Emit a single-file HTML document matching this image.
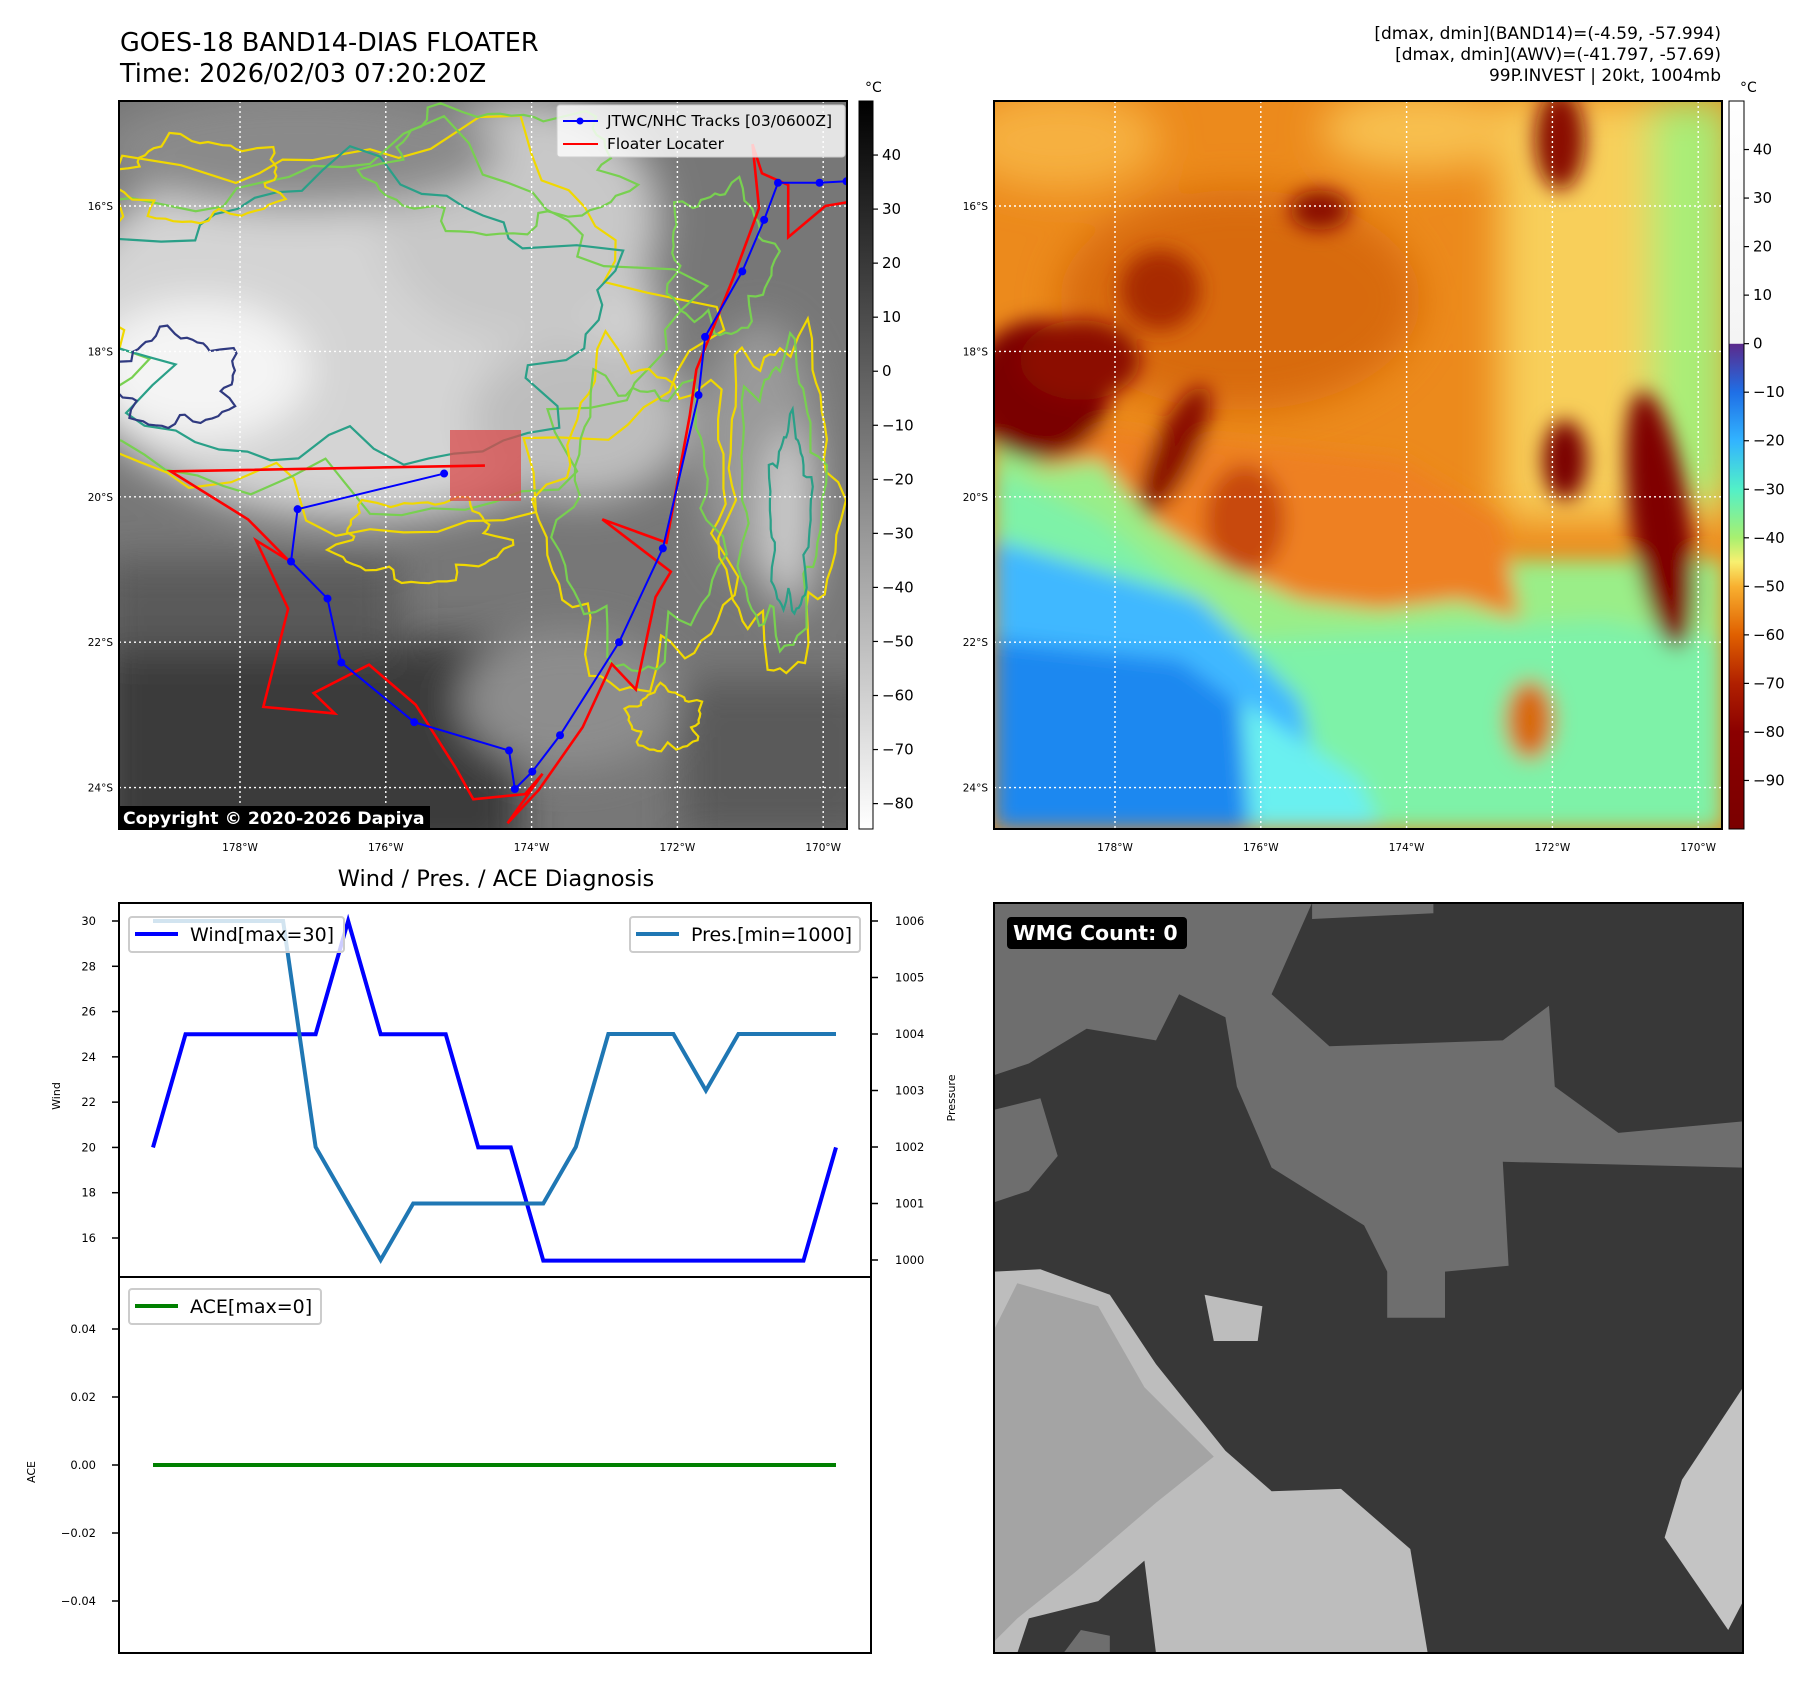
<!DOCTYPE html>
<html><head><meta charset="utf-8">
<style>
html,body{margin:0;padding:0;background:#fff;}
svg{display:block;font-family:"DejaVu Sans","Liberation Sans",sans-serif;}
</style></head>
<body>
<svg id="fig" width="1813" height="1690" viewBox="0 0 1813 1690" xmlns="http://www.w3.org/2000/svg">
<defs>
  <filter id="b20" x="-30%" y="-30%" width="160%" height="160%"><feGaussianBlur stdDeviation="20"/></filter>
  <filter id="b10" x="-30%" y="-30%" width="160%" height="160%"><feGaussianBlur stdDeviation="10"/></filter>
  <clipPath id="clipL"><rect x="119" y="101" width="728" height="728"/></clipPath>
  <clipPath id="clipR"><rect x="994" y="101" width="728" height="728"/></clipPath>
  <clipPath id="clipW"><rect x="994" y="903" width="749" height="750"/></clipPath>
  <linearGradient id="cbGray" x1="0" y1="0" x2="0" y2="1">
    <stop offset="0" stop-color="#000"/><stop offset="1" stop-color="#fff"/>
  </linearGradient>
  <linearGradient id="cbColor" x1="0" y1="0" x2="0" y2="1">
    <stop offset="0" stop-color="#ffffff"/><stop offset="0.333" stop-color="#f4f4f4"/>
    <stop offset="0.334" stop-color="#5b2a8c"/><stop offset="0.4" stop-color="#1f6fe6"/>
    <stop offset="0.467" stop-color="#32b4ff"/><stop offset="0.533" stop-color="#52f0c8"/>
    <stop offset="0.6" stop-color="#a8f070"/><stop offset="0.633" stop-color="#f8f070"/>
    <stop offset="0.667" stop-color="#f8b030"/><stop offset="0.733" stop-color="#e06000"/>
    <stop offset="0.8" stop-color="#b02000"/><stop offset="0.867" stop-color="#8b0000"/>
    <stop offset="1" stop-color="#7a0000"/>
  </linearGradient>
</defs>

<!-- Titles -->
<text x="120" y="51" font-size="25.5" fill="#000">GOES-18 BAND14-DIAS FLOATER</text>
<text x="120" y="82" font-size="25.5" fill="#000">Time: 2026/02/03 07:20:20Z</text>
<text x="1721" y="39" font-size="17" text-anchor="end">[dmax, dmin](BAND14)=(-4.59, -57.994)</text>
<text x="1721" y="60" font-size="17" text-anchor="end">[dmax, dmin](AWV)=(-41.797, -57.69)</text>
<text x="1721" y="81" font-size="17" text-anchor="end">99P.INVEST | 20kt, 1004mb</text>

<!-- LEFT MAP -->
<g id="leftMap" clip-path="url(#clipL)">
  <rect x="119" y="101" width="728" height="728" fill="#777"/>
  <g filter="url(#b20)">
    <ellipse cx="360" cy="330" rx="300" ry="190" fill="#d4d4d4"/>
    <ellipse cx="200" cy="370" rx="110" ry="70" fill="#f4f4f4"/>
    <ellipse cx="520" cy="220" rx="140" ry="120" fill="#c8c8c8"/>
    <ellipse cx="580" cy="420" rx="110" ry="80" fill="#bdbdbd"/>
    <ellipse cx="760" cy="450" rx="60" ry="130" fill="#9a9a9a"/>
    <ellipse cx="790" cy="520" rx="25" ry="90" fill="#cfcfcf"/>
    <rect x="100" y="640" width="420" height="220" fill="#3b3b3b"/>
    <rect x="100" y="560" width="300" height="90" fill="#5a5a5a"/>
    <ellipse cx="570" cy="700" rx="110" ry="70" fill="#8d8d8d"/>
    <rect x="680" y="680" width="200" height="160" fill="#5a5a5a"/>
    <ellipse cx="300" cy="150" rx="200" ry="60" fill="#8a8a8a"/>
  </g>
  <g id="contours" fill="none" stroke-width="2.2"></g>
  <rect x="450" y="430" width="71" height="71" fill="#d94b4b" fill-opacity="0.75"/>
  <g id="gridL" stroke="#fff" stroke-width="1.4" stroke-dasharray="2,3"></g>
  <g id="tracks"></g>
</g>
<rect x="119" y="101" width="728" height="728" fill="none" stroke="#000" stroke-width="2"/>
<g>
  <rect x="119" y="806" width="311" height="24" fill="#000"/>
  <text x="123" y="824" font-size="17.3" font-weight="bold" fill="#fff">Copyright © 2020-2026 Dapiya</text>
</g>
<g>
  <rect x="557" y="105" width="288" height="52" fill="#fff" fill-opacity="0.8" stroke="#ccc" rx="3"/>
  <line x1="563" y1="121" x2="598" y2="121" stroke="#0000ff" stroke-width="2"/>
  <circle cx="580" cy="121" r="3.5" fill="#0000ff"/>
  <text x="607" y="126" font-size="15.5">JTWC/NHC Tracks [03/0600Z]</text>
  <line x1="563" y1="144" x2="598" y2="144" stroke="#ff0000" stroke-width="2"/>
  <text x="607" y="149" font-size="15.5">Floater Locater</text>
</g>
<g id="axLabelsL" font-size="10.5"></g>
<!-- left colorbar -->
<rect x="859" y="101" width="14" height="728" fill="url(#cbGray)" stroke="#000" stroke-width="1"/>
<text x="865" y="92" font-size="14">°C</text>
<g id="cbL" font-size="15"></g>

<!-- RIGHT MAP -->
<g clip-path="url(#clipR)">
  <rect x="994" y="101" width="728" height="728" fill="#ec8a1c"/>
  <g filter="url(#b20)">
    <rect x="1500" y="100" width="230" height="420" fill="#f8cf5a"/>
    <rect x="1650" y="100" width="80" height="400" fill="#a8ee78"/>
    <ellipse cx="1060" cy="140" rx="100" ry="50" fill="#f6b040"/>
    <ellipse cx="1240" cy="300" rx="180" ry="110" fill="#d86a10"/>
    <ellipse cx="1420" cy="130" rx="100" ry="40" fill="#f8c050"/>
  </g>
  <g filter="url(#b10)">
    <path d="M994,440 L1120,450 L1290,480 L1420,520 L1500,560 L1722,560 L1722,829 L994,829 Z" fill="#9aee88"/>
    <path d="M994,470 L1100,520 L1250,640 L1420,630 L1600,620 L1722,640 L1722,829 L994,829 Z" fill="#7ef2a8"/>
    <path d="M994,540 L1200,600 L1300,700 L1330,829 L994,829 Z" fill="#40b8ff"/>
    <path d="M994,640 L1180,660 L1260,720 L1280,829 L994,829 Z" fill="#1e88f0"/>
    <path d="M1240,700 L1360,780 L1380,829 L1250,829 Z" fill="#6af0f0"/>
    <path d="M1030,470 L1100,460 L1150,520 L1210,560 L1300,600 L1380,610 L1460,600 L1520,620 L1500,520 L1400,460 L1300,450 L1200,440 L1100,430 Z" fill="#ee8020"/>
    <ellipse cx="1040" cy="390" rx="70" ry="70" fill="#7a0000"/>
    <ellipse cx="1080" cy="360" rx="60" ry="40" fill="#8c0800"/>
    <ellipse cx="1175" cy="450" rx="22" ry="70" fill="#8a0a00" transform="rotate(25 1175 450)"/>
    <ellipse cx="1320" cy="210" rx="30" ry="20" fill="#8a0a00"/>
    <ellipse cx="1565" cy="460" rx="22" ry="40" fill="#7a0000"/>
    <ellipse cx="1660" cy="520" rx="30" ry="130" fill="#800000" transform="rotate(-8 1660 520)"/>
    <ellipse cx="1560" cy="140" rx="25" ry="50" fill="#8a1000"/>
    <ellipse cx="1530" cy="720" rx="25" ry="40" fill="#d86a10"/>
    <ellipse cx="1245" cy="520" rx="40" ry="55" fill="#c84808"/>
    <ellipse cx="1160" cy="290" rx="40" ry="40" fill="#a82c00"/>
  </g>
  <g id="gridR" stroke="#fff" stroke-width="1.4" stroke-dasharray="2,3"></g>
</g>
<rect x="994" y="101" width="728" height="728" fill="none" stroke="#000" stroke-width="2"/>
<g id="axLabelsR" font-size="10.5"></g>
<rect x="1729" y="101" width="15" height="728" fill="url(#cbColor)" stroke="#000" stroke-width="1"/>
<text x="1740" y="92" font-size="14">°C</text>
<g id="cbR" font-size="15"></g>

<!-- Line chart -->
<text x="496" y="886" font-size="22.5" text-anchor="middle">Wind / Pres. / ACE Diagnosis</text>
<g id="chart"></g>
<rect x="119" y="903" width="752" height="750" fill="none" stroke="#000" stroke-width="2"/>
<line x1="119" y1="1277" x2="871" y2="1277" stroke="#000" stroke-width="2"/>
<g>
  <rect x="129" y="917" width="215" height="35" fill="#fff" fill-opacity="0.8" stroke="#ccc" stroke-width="2" rx="3"/>
  <line x1="135" y1="934" x2="178" y2="934" stroke="#0000ff" stroke-width="4"/>
  <text x="190" y="941" font-size="19">Wind[max=30]</text>
</g>
<g>
  <rect x="630" y="917" width="230" height="35" fill="#fff" fill-opacity="0.8" stroke="#ccc" stroke-width="2" rx="3"/>
  <line x1="636" y1="934" x2="679" y2="934" stroke="#1f77b4" stroke-width="4"/>
  <text x="691" y="941" font-size="19">Pres.[min=1000]</text>
</g>
<g>
  <rect x="129" y="1289" width="192" height="35" fill="#fff" fill-opacity="0.8" stroke="#ccc" stroke-width="2" rx="3"/>
  <line x1="135" y1="1306" x2="178" y2="1306" stroke="#008000" stroke-width="4"/>
  <text x="190" y="1313" font-size="19">ACE[max=0]</text>
</g>
<text transform="translate(60,1096) rotate(-90)" font-size="11" text-anchor="middle">Wind</text>
<text transform="translate(955,1098) rotate(-90)" font-size="11" text-anchor="middle">Pressure</text>
<text transform="translate(35,1472) rotate(-90)" font-size="11" text-anchor="middle">ACE</text>

<!-- WMG panel -->
<g clip-path="url(#clipW)">
  <rect x="994" y="903" width="749" height="750" fill="#383838"/>
  <g id="wmgPolys"></g>
</g>
<rect x="994" y="903" width="749" height="750" fill="none" stroke="#000" stroke-width="2"/>
<g>
  <rect x="1007" y="917" width="180" height="32" rx="4" fill="#000"/>
  <text x="1013" y="940" font-size="20.5" font-weight="bold" fill="#fff">WMG Count: 0</text>
</g>

<script>
// ---------- chart data ----------
const steps = [0,1,2,3,4,5,6,7,8,9,10,11,12,13,14,15,16,17,18,19,20,21];
const windValues = [20,25,25,25,25,25,30,25,25,25,20,20,15,15,15,15,15,15,15,15,15,20];
const presValues = [1006,1006,1006,1006,1006,1002,1001,1000,1001,1001,1001,1001,1001,1002,1004,1004,1004,1003,1004,1004,1004,1004];
const aceValues = [0,0,0,0,0,0,0,0,0,0,0,0,0,0,0,0,0,0,0,0,0,0];
const windTicks = [16,18,20,22,24,26,28,30];
const presTicks = [1000,1001,1002,1003,1004,1005,1006];
const aceTicks = [-0.04,-0.02,0.00,0.02,0.04];
const aceTickLabels = ["\u22120.04","\u22120.02","0.00","0.02","0.04"];
// ---------- map data ----------
const lonTicks = [-178,-176,-174,-172,-170];
const lonTickLabels = ["178°W","176°W","174°W","172°W","170°W"];
const latTicks = [16,18,20,22,24];
const latTickLabels = ["16°S","18°S","20°S","22°S","24°S"];
const trackLon = [-169.68,-170.05,-170.62,-170.81,-171.11,-171.62,-171.71,-172.20,-172.80,-173.61,-173.99,-174.23,-174.31,-175.61,-176.61,-176.80,-177.30,-177.21,-175.20];
const trackLat = [15.66,15.68,15.68,16.19,16.90,17.80,18.60,20.71,22.00,23.28,23.78,24.02,23.49,23.10,22.28,21.40,20.89,20.17,19.68];
const floaterLon = [-169.68,-169.97,-170.48,-170.48,-170.84,-170.97,-170.88,-171.23,-171.74,-171.83,-172.15,-173.03,-172.09,-172.30,-172.57,-172.90,-173.30,-173.90,-174.33,-173.85,-174.09,-174.80,-175.04,-175.59,-176.23,-176.99,-176.70,-177.68,-177.34,-177.78,-177.34,-177.89,-178.95,-174.64];
const floaterLat = [15.95,16.00,16.43,15.71,15.55,15.15,16.03,16.98,18.25,18.88,20.63,20.31,21.03,21.38,22.65,22.30,23.17,24.03,24.49,23.81,24.09,24.16,23.73,22.86,22.31,22.70,22.98,22.89,21.54,20.60,20.87,20.31,19.65,19.57];
const cbLTicks = [40,30,20,10,0,-10,-20,-30,-40,-50,-60,-70,-80];
const cbRTicks = [40,30,20,10,0,-10,-20,-30,-40,-50,-60,-70,-80,-90];

const NS = "http://www.w3.org/2000/svg";
function mk(tag, attrs, parent){ const e=document.createElementNS(NS,tag); for(const k in attrs) e.setAttribute(k,attrs[k]); parent.appendChild(e); return e; }
function fmt(v){ return String(v).replace('-', '\u2212'); }

const xStep = i => 153 + i*(836-153)/21;
const yWind = v => 921 + (30 - v)*(1238-921)/14;
const yPres = v => 921 + (1006 - v)*(1260-921)/6;
const yAce = v => 1465 - v*(1465-1329)/0.04;
const lonL = lon => 240 + (lon + 178)*72.9;
const latL = lat => 206 + (lat - 16)*72.7;
const lonR = lon => lonL(lon) + 875;
const chart = document.getElementById('chart');

windTicks.forEach(t=>{
  const y=yWind(t);
  const tk=mk('line',{x1:112,x2:119,y1:y,y2:y,stroke:'#000','stroke-width':1.5},chart);
  
  
  const tx=mk('text',{x:96,y:y+4,'font-size':11.5,'text-anchor':'end'},chart);
  
  
  tx.textContent=t;
});
presTicks.forEach(t=>{
  const y=yPres(t);
  const tk=mk('line',{x1:871,x2:878,y1:y,y2:y,stroke:'#000','stroke-width':1.5},chart);
  
  
  const tx=mk('text',{x:895,y:y+4,'font-size':11.5},chart);
  
  
  tx.textContent=t;
});
aceTicks.forEach((t,i)=>{
  const y=yAce(t);
  const tk=mk('line',{x1:112,x2:119,y1:y,y2:y,stroke:'#000','stroke-width':1.5},chart);
  
  
  const tx=mk('text',{x:96,y:y+4,'font-size':11.5,'text-anchor':'end'},chart);
  
  
  tx.textContent=aceTickLabels[i];
});
function series(vals, yf, color, name){
  const p=mk('polyline',{points:vals.map((v,i)=>xStep(steps[i])+','+yf(v)).join(' '),fill:'none',stroke:color,'stroke-width':4,'stroke-linejoin':'miter'},chart);
  
  
}
series(windValues,yWind,'#0000ff','wind-line');
series(presValues,yPres,'#1f77b4','pressure-line');
series(aceValues,yAce,'#008000','ace-line');

function grid(gid, lonf, x0, x1, labelsId){
  const g=document.getElementById(gid), lab=document.getElementById(labelsId);
  lonTicks.forEach((lon,i)=>{
    const x=lonf(lon);
    const gl=mk('line',{x1:x,x2:x,y1:101,y2:829},g);
    
    
    const t=mk('text',{x:x,y:851,'text-anchor':'middle'},lab);
    
    
    t.textContent=lonTickLabels[i];
  });
  latTicks.forEach((lat,i)=>{
    const y=latL(lat);
    const gl=mk('line',{x1:x0,x2:x1,y1:y,y2:y},g);
    
    
    const t=mk('text',{x:x0-6,y:y+4,'text-anchor':'end'},lab);
    
    
    t.textContent=latTickLabels[i];
  });
}
grid('gridL',lonL,119,847,'axLabelsL');
grid('gridR',lonR,994,1722,'axLabelsR');

function cb(gid, ticks, top, bot, vmax, vmin, x){
  const g=document.getElementById(gid);
  ticks.forEach(t=>{
    const y=top+(vmax-t)*(bot-top)/(vmax-vmin);
    mk('line',{x1:x,x2:x+5,y1:y,y2:y,stroke:'#000','stroke-width':1.2},g);
    const tx=mk('text',{x:x+9,y:y+5},g);
    
    
    tx.textContent=fmt(t);
  });
}
cb('cbL',cbLTicks,101,829,50,-84.7,873);
cb('cbR',cbRTicks,101,829,50,-100,1744);

const tr=document.getElementById('tracks');
const fl=mk('polyline',{points:floaterLon.map((l,i)=>lonL(l)+','+latL(floaterLat[i])).join(' '),fill:'none',stroke:'#ff0000','stroke-width':2.6},tr);


const bt=mk('polyline',{points:trackLon.map((l,i)=>lonL(l)+','+latL(trackLat[i])).join(' '),fill:'none',stroke:'#0000ff','stroke-width':2},tr);


trackLon.forEach((l,i)=>{
  const c=mk('circle',{cx:lonL(l),cy:latL(trackLat[i]),r:4,fill:'#0000ff'},tr);
  
  
});

const cg=document.getElementById('contours');
function blob(cx,cy,rx,ry,color,seed){
  let d='';
  for(let k=0;k<=60;k++){
    const a=k/60*Math.PI*2;
    const r=1+0.12*Math.sin(a*5+seed)+0.08*Math.sin(a*11+seed*2)+0.05*Math.sin(a*17+seed*3);
    const x=cx+rx*r*Math.cos(a), y=cy+ry*r*Math.sin(a);
    d+=(k?'L':'M')+x.toFixed(1)+','+y.toFixed(1);
  }
  mk('path',{d:d+'Z',stroke:color},cg);
}
blob(370,330,300,190,'#f0d800',1);
blob(370,330,285,175,'#78d050',2);
blob(350,320,245,140,'#2aa088',3);
blob(175,380,60,45,'#303a80',4);
blob(640,520,90,160,'#f0d800',5);
blob(640,520,75,140,'#78d050',6);
blob(780,500,55,160,'#f0d800',7);
blob(780,500,40,140,'#78d050',8);
blob(790,520,20,90,'#2aa088',9);
blob(665,720,35,30,'#f0d800',10);
blob(200,180,80,40,'#f0d800',11);
blob(500,170,120,60,'#78d050',12);
blob(420,540,80,40,'#f0d800',13);
blob(720,260,50,70,'#78d050',14);

const wp=document.getElementById('wmgPolys');
const S=1.156;
function poly(pts,color){ mk('polygon',{points:pts.map(p=>(p[0]*S).toFixed(1)+','+(p[1]*S).toFixed(1)).join(' '),fill:color},wp); }
poly([[860,781],[1135,781],[1100,860],[1150,905],[1300,900],[1340,870],[1345,940],[1400,980],[1508,970],[1508,1010],[1300,1005],[1305,1095],[1250,1100],[1250,1140],[1200,1140],[1200,1100],[1180,1060],[1100,1010],[1070,940],[1060,880],[1020,860],[1000,900],[940,890],[890,920],[860,930]],'#6e6e6e');
poly([[860,960],[900,950],[915,1000],[890,1030],[860,1040]],'#6e6e6e');
poly([[1135,781],[1240,781],[1240,790],[1135,795]],'#6e6e6e');
poly([[860,1100],[900,1098],[960,1120],[1000,1180],[1060,1255],[1100,1290],[1160,1288],[1220,1340],[1235,1430],[860,1430]],'#bdbdbd');
poly([[880,1110],[950,1130],[990,1200],[1050,1260],[1000,1300],[930,1360],[880,1400],[860,1420],[860,1150]],'#a4a4a4');
poly([[880,1430],[890,1400],[950,1385],[990,1350],[1000,1430]],'#383838');
poly([[920,1430],[935,1410],[960,1415],[960,1430]],'#6e6e6e');
poly([[1455,1280],[1508,1200],[1508,1385],[1495,1410],[1440,1330]],'#c4c4c4');
poly([[1042,1120],[1092,1130],[1088,1160],[1050,1160]],'#bdbdbd');
</script>
</svg>
</body></html>
